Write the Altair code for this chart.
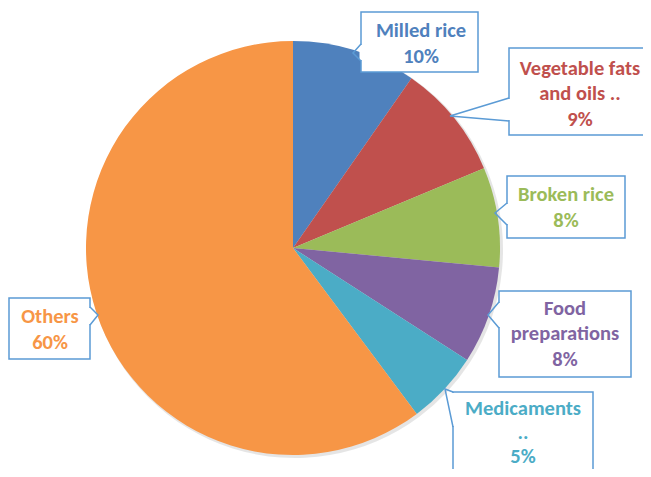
import altair as alt
import pandas as pd

# ---- data ----
categories = ["Milled rice", "Vegetable fats and oils ..", "Broken rice",
              "Food preparations", "Medicaments ..", "Others"]
shares = [9.7, 9.0, 7.8, 7.6, 5.7, 60.2]
share_labels = ["10%", "9%", "8%", "8%", "5%", "60%"]
label_lines = [["Milled rice"], ["Vegetable fats", "and oils .."], ["Broken rice"],
               ["Food", "preparations"], ["Medicaments", ".."], ["Others"]]
colors = ["#4F81BD", "#C0504D", "#9BBB59", "#8064A2", "#4BACC6", "#F79646"]

# ---- layout of the callouts (page pixels) ----
OFF = 8
CX, CY, R = 293, 248, 207
line_h = [25.5, 25.5, 25.5, 25.5, 24, 25.5]
box_x1 = [361, 509, 507, 499, 453, 9]
box_y1 = [12, 48, 176, 291, 392, 298]
box_x2 = [478, 648, 625, 631, 593, 90]
box_y2 = [72, 135, 238, 377, 492, 359]
tip_x = [353, 450, 495, 488, 445, 98]
tip_y = [53, 116, 213, 315, 389, 315]
base_x = [361, 509, 507, 499, 453, 90]
base_ya = [44, 98, 203, 302, 392, 307]
base_yb = [61, 121, 225, 328, 427, 325]
text_x = [421, 580, 566, 565, 523, 50]
text_y = [44, 94, 208, 334, 433, 330]

pie_df = pd.DataFrame({"category": categories, "share": shares, "k": range(len(categories))})

box_df = pd.DataFrame({
    "category": categories,
    "x1": [v - OFF for v in box_x1], "x2": [v - OFF for v in box_x2],
    "y1": [v - OFF for v in box_y1], "y2": [v - OFF for v in box_y2],
})

ptr_rows, cover_rows = [], []
for i, c in enumerate(categories):
    pts = [(base_x[i], base_ya[i]), (tip_x[i], tip_y[i]), (base_x[i], base_yb[i])]
    for j, (px, py) in enumerate(pts):
        ptr_rows.append({"category": c, "k": j, "px": px - OFF, "py": py - OFF})
    cover_rows.append({"category": c, "k": 0, "px": base_x[i] - OFF, "py": base_ya[i] - OFF + 1})
    cover_rows.append({"category": c, "k": 1, "px": base_x[i] - OFF, "py": base_yb[i] - OFF - 1})
ptr_df = pd.DataFrame(ptr_rows)
cover_df = pd.DataFrame(cover_rows)

text_rows = []
for i, c in enumerate(categories):
    lines = label_lines[i] + [share_labels[i]]
    n = len(lines)
    for j, line in enumerate(lines):
        text_rows.append({
            "category": c, "label": line,
            "tx": text_x[i] - OFF,
            "ty": text_y[i] - OFF + (j - (n - 1) / 2) * line_h[i],
        })
text_df = pd.DataFrame(text_rows)

color_scale = alt.Scale(domain=categories, range=colors)
BORDER = "#5B9BD5"

shadow = alt.Chart(pie_df).mark_arc(outerRadius=R + 1, color="#000000", opacity=0.1).encode(
    theta=alt.Theta("share:Q", stack=True),
    order=alt.Order("k:Q"),
    x=alt.value(CX - OFF + 2), y=alt.value(CY - OFF + 2),
)

pie = alt.Chart(pie_df).mark_arc(outerRadius=R).encode(
    theta=alt.Theta("share:Q", stack=True),
    color=alt.Color("category:N", scale=color_scale, legend=None),
    order=alt.Order("k:Q"),
    x=alt.value(CX - OFF), y=alt.value(CY - OFF),
)

boxes = alt.Chart(box_df).mark_rect(fill="white", stroke=BORDER, strokeWidth=1.5).encode(
    x=alt.X("x1:Q", scale=None), x2="x2:Q",
    y=alt.Y("y1:Q", scale=None), y2="y2:Q",
)

cover = alt.Chart(cover_df).mark_line(color="white", strokeWidth=3).encode(
    x=alt.X("px:Q", scale=None), y=alt.Y("py:Q", scale=None),
    detail="category:N", order="k:Q",
)

pointers = alt.Chart(ptr_df).mark_line(color=BORDER, strokeWidth=1.5).encode(
    x=alt.X("px:Q", scale=None), y=alt.Y("py:Q", scale=None),
    detail="category:N", order="k:Q",
)

texts = alt.Chart(text_df).mark_text(
    font="Calibri, Carlito, Lato", fontWeight="bold", fontSize=20.5,
    align="center", baseline="middle",
).encode(
    x=alt.X("tx:Q", scale=None), y=alt.Y("ty:Q", scale=None),
    text="label:N",
    color=alt.Color("category:N", scale=color_scale, legend=None),
)

chart = alt.layer(shadow, pie, boxes, cover, pointers, texts).properties(
    width=635, height=461,
    autosize=alt.AutoSizeParams(type="none"),
    padding=0,
).configure_view(stroke=None)

chart.save("out.html", embed_options={"renderer": "svg", "actions": False})
